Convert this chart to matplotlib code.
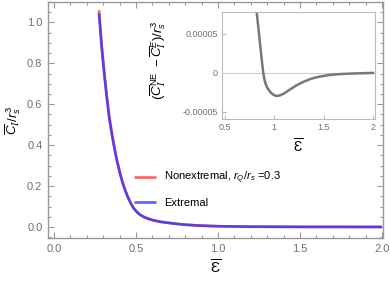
import matplotlib
matplotlib.use("Agg")
import matplotlib.pyplot as plt
from matplotlib.ticker import MultipleLocator, FixedLocator

plt.rcParams['font.family'] = ['Liberation Sans', 'DejaVu Sans']
plt.rcParams['mathtext.fontset'] = 'custom'
plt.rcParams['mathtext.rm'] = 'Liberation Sans'
plt.rcParams['mathtext.it'] = 'Liberation Sans:italic'
plt.rcParams['mathtext.cal'] = 'DejaVu Serif:italic'

# Main curves
eps_main = [0.274, 0.290, 0.305, 0.321, 0.337, 0.350, 0.363, 0.380, 0.402, 0.418, 0.433,
            0.450, 0.462, 0.474, 0.487, 0.500, 0.512, 0.524, 0.550, 0.575, 0.604, 0.650,
            0.726, 0.800, 0.890, 1.000, 1.200, 1.500, 1.750, 2.000]
c_extremal = [1.045, 0.880, 0.755, 0.635, 0.530, 0.465, 0.405, 0.335, 0.262, 0.216, 0.180,
              0.146, 0.125, 0.106, 0.090, 0.078, 0.068, 0.060, 0.048, 0.040, 0.033, 0.025,
              0.017, 0.011, 0.0065, 0.0035, 0.0013, 0.0004, 0.0002, 0.0001]
c_nonextremal = [1.060, 0.894, 0.767, 0.645, 0.538, 0.472, 0.411, 0.340, 0.265, 0.218, 0.182,
                 0.147, 0.126, 0.107, 0.090, 0.078, 0.068, 0.060, 0.048, 0.040, 0.033, 0.025,
                 0.017, 0.011, 0.0065, 0.0035, 0.0013, 0.0004, 0.0002, 0.0001]

# Inset difference curve
eps_inset = [0.800, 0.810, 0.821, 0.833, 0.844, 0.855, 0.866, 0.877, 0.888, 0.900, 0.912,
             0.925, 0.939, 0.960, 0.985, 1.007, 1.030, 1.057, 1.100, 1.159, 1.220, 1.293,
             1.360, 1.429, 1.500, 1.564, 1.660, 1.767, 1.880, 2.000]
diff_inset = [1.10e-4, 9.30e-5, 7.86e-5, 6.40e-5, 5.13e-5, 3.80e-5, 2.50e-5, 1.20e-5, 0.0,
              -0.85e-5, -1.40e-5, -1.80e-5, -2.10e-5, -2.45e-5, -2.75e-5, -2.90e-5, -2.95e-5,
              -2.88e-5, -2.62e-5, -2.12e-5, -1.62e-5, -1.15e-5, -0.80e-5, -0.55e-5, -0.38e-5,
              -0.26e-5, -0.15e-5, -0.09e-5, -0.04e-5, 0.0]

main_xticks = [0.0, 0.5, 1.0, 1.5, 2.0]
main_yticks = [0.0, 0.2, 0.4, 0.6, 0.8, 1.0]
inset_xticks = [0.5, 1.0, 1.5, 2.0]
inset_xticklabels = ['0.5', '1', '1.5', '2']
inset_yticks = [-5e-5, 0.0, 5e-5]
inset_yticklabels = ['-0.00005', '0', '0.00005']

W, H = 390, 284
fig = plt.figure(figsize=(W / 100, H / 100), dpi=100)

frame_col = '#999999'
lab_col = '#707070'

def px_rect(l, t, r, b):
    return [l / W, 1 - b / H, (r - l) / W, (b - t) / H]

ax = fig.add_axes(px_rect(48, 2, 383, 238))
ax.plot(eps_main, c_nonextremal, color='#ff4848', lw=1.9, alpha=0.85,
        label=r'Nonextremal, $r_Q/r_s$ =0.3', solid_capstyle='butt')
ax.plot(eps_main, c_extremal, color='#3434ff', lw=1.9, alpha=0.8,
        label='Extremal', solid_capstyle='butt')
ax.set_xlim(-0.037, 2.006)
ax.set_ylim(-0.054, 1.10)
ax.set_xticks(main_xticks)
ax.set_xticklabels([f'{v:.1f}' for v in main_xticks])
ax.set_yticks(main_yticks)
ax.set_yticklabels([f'{v:.1f}' for v in main_yticks])
ax.xaxis.set_minor_locator(MultipleLocator(0.1))
ax.yaxis.set_minor_locator(MultipleLocator(0.05))
ax.tick_params(which='both', direction='in', top=True, right=True, color=frame_col,
               labelcolor=lab_col, labelsize=8, width=0.8)
ax.tick_params(which='major', length=4, pad=4)
ax.tick_params(which='minor', length=2.2)
for s in ax.spines.values():
    s.set_color(frame_col)
    s.set_linewidth(1.0)
ax.set_xlabel(r'$\overline{\mathrm{Ɛ}}$', fontsize=11, labelpad=4)
ax.set_ylabel(r'$\overline{C}_{\mathcal{I}}/r_s^3$', fontsize=9.5)
ax.yaxis.set_label_coords((23 - 48) / 335, 0.5)

leg = ax.legend(loc='upper left', bbox_to_anchor=(134 / W, 1 - 170 / H),
                bbox_transform=fig.transFigure, frameon=False, fontsize=8,
                handlelength=2.0, handletextpad=0.7, labelspacing=1.0,
                borderaxespad=0, borderpad=0)

# Inset
axi = fig.add_axes(px_rect(222, 12, 375, 119))
axi.axhline(0, color='#cccccc', lw=0.8)
axi.plot(eps_inset, diff_inset, color='#777777', lw=1.8)
axi.set_xlim(0.47, 2.02)
axi.set_ylim(-5.9e-5, 7.8e-5)
axi.xaxis.set_major_locator(FixedLocator(inset_xticks))
axi.set_xticklabels(inset_xticklabels)
axi.yaxis.set_major_locator(FixedLocator(inset_yticks))
axi.set_yticklabels(inset_yticklabels)
axi.tick_params(which='both', direction='in', color='#aaaaaa', labelcolor=lab_col,
                labelsize=6.5, length=3, width=0.6, pad=3)
for s in axi.spines.values():
    s.set_color('#bbbbbb')
    s.set_linewidth(0.8)
axi.set_xlabel(r'$\overline{\mathrm{Ɛ}}$', fontsize=10, labelpad=4)
axi.set_ylabel(r'$(\overline{C}_{\mathcal{I}}^{\mathrm{NE}}\ -\overline{C}_{\mathcal{I}}^{E})/r_s^3$',
               fontsize=9.5)
axi.yaxis.set_label_coords((168 - 222) / 153, (119 - 60) / 107)

fig.savefig('out.png', dpi=100)
